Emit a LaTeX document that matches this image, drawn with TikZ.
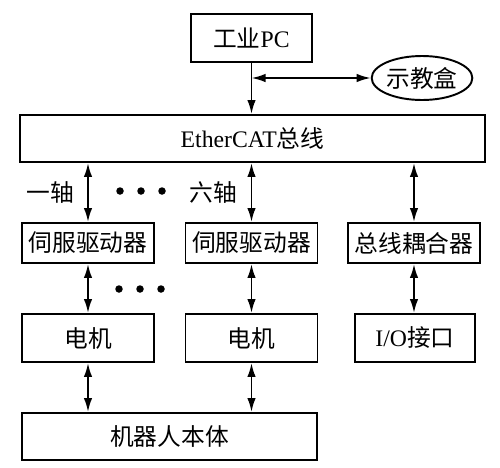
\documentclass[tikz,border=0pt]{standalone}
\usepackage{fontspec}
\setmainfont{Liberation Serif}
\newfontfamily\cjk{Noto Sans CJK SC}
\usetikzlibrary{shapes.geometric, arrows.meta, positioning, calc}

\tikzset{
  blk/.style={draw, rectangle, line width=1.1pt, minimum height=0.8cm, minimum width=2.64cm, inner sep=0pt, font=\fontsize{13.5}{16}\selectfont},
  lnk/.style={line width=1.1pt, {Latex[length=2.8mm,width=1.7mm]}-{Latex[length=2.8mm,width=1.7mm]}},
  dotmark/.style={circle, fill, inner sep=0pt, minimum size=0.15cm}
}

\begin{document}
\begin{tikzpicture}
        \useasboundingbox (0,0) rectangle (10,9.34);
        % top level
        \node[blk, minimum width=2.42cm, minimum height=0.96cm] (pc) at (5.03,8.58) {{\cjk 工业}PC};
        \node[draw, ellipse, line width=1.1pt, minimum width=2.0cm, minimum height=0.88cm, inner sep=0pt, font=\fontsize{13.5}{16}\selectfont] (tb) at (8.44,7.78) {\cjk 示教盒};
        \node[blk, minimum width=9.3cm, minimum height=0.94cm] (bus) at (5.05,6.57) {EtherCAT{\cjk 总线}};
        % drives
        \node[blk] (sv1) at (1.76,4.48) {\cjk 伺服驱动器};
        \node[blk] (sv6) at (5.03,4.48) {\cjk 伺服驱动器};
        \node[blk] (cp) at (8.28,4.48) {\cjk 总线耦合器};
        % motors
        \node[blk, minimum height=0.96cm] (m1) at (1.76,2.58) {\cjk 电机};
        \node[blk, minimum height=0.96cm] (m6) at (5.03,2.58) {\cjk 电机};
        \node[blk, minimum width=2.4cm, minimum height=0.96cm] (io) at (8.30,2.58) {I/O{\cjk 接口}};
        \node[blk, minimum width=5.9cm, minimum height=0.94cm] (body) at (3.39,0.61) {\cjk 机器人本体};
        % labels
        \node[font=\fontsize{13.5}{16}\selectfont] (ax1) at (1.0,5.50) {\cjk 一轴};
        \node[font=\fontsize{13.5}{16}\selectfont] (ax6) at (4.26,5.50) {\cjk 六轴};
        \foreach \x in {2.40,2.82,3.24} \node[dotmark] at (\x,5.52) {};
        \foreach \x in {2.38,2.80,3.22} \node[dotmark] at (\x,3.56) {};
        % connectors
        \coordinate (j) at (pc.south |- tb.west);
        \draw[line width=1.1pt, -{Latex[length=2.8mm,width=1.7mm]}] (pc.south) -- (pc.south |- bus.north);
        \draw[lnk] (j) -- (tb.west);
        \draw[lnk] (bus.south -| sv1.north) -- (sv1.north);
        \draw[lnk] (bus.south -| sv6.north) -- (sv6.north);
        \draw[lnk] (bus.south -| cp.north) -- (cp.north);
        \draw[lnk] (sv1.south) -- (m1.north);
        \draw[lnk] (sv6.south) -- (m6.north);
        \draw[lnk] (cp.south) -- (cp.south |- io.north);
        \draw[lnk] (m1.south) -- (m1.south |- body.north);
        \draw[lnk] (m6.south) -- (m6.south |- body.north);
\end{tikzpicture}
\end{document}
